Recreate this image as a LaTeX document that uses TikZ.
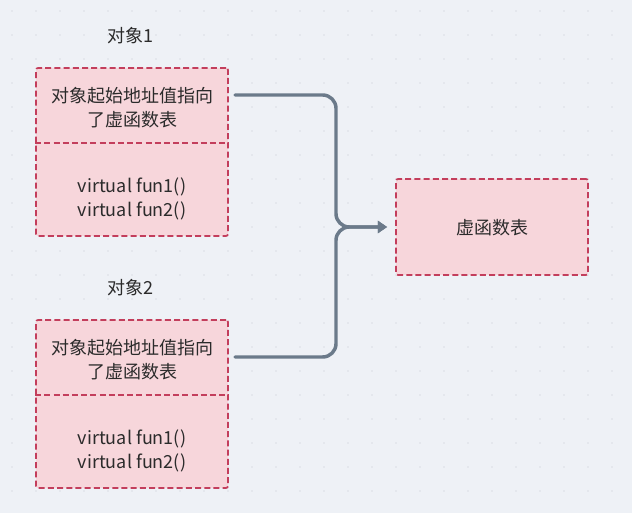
\documentclass[tikz,border=0pt]{standalone}
\usepackage{fontspec}
\setmainfont{Noto Sans CJK SC}
\usepackage{tikz}
\usetikzlibrary{positioning,arrows.meta}

\definecolor{bgc}{HTML}{EEF1F6}
\definecolor{dotc}{HTML}{C5CAD3}
\definecolor{boxfill}{HTML}{F7D6DB}
\definecolor{boxline}{HTML}{C33E5C}
\definecolor{linkc}{HTML}{6B7A8A}
\definecolor{txtc}{HTML}{2B2B2B}

\tikzset{
  objbox/.style={draw=boxline,fill=boxfill,line width=1.3pt,dash pattern=on 4.5pt off 2.4pt,
    rounded corners=1.5pt,minimum width=144pt,inner sep=0pt},
  divline/.style={draw=boxline,line width=1.3pt,dash pattern=on 4.5pt off 2.4pt},
  txt/.style={text=txtc,align=center,font=\fontsize{13.5pt}{17.5pt}\selectfont,inner sep=0pt},
  link/.style={draw=linkc,line width=2.6pt,rounded corners=10pt,line cap=round,
    -{Triangle[length=7pt,width=9pt]},shorten >=6pt}
}

\begin{document}
\begin{tikzpicture}[x=0.75pt,y=0.75pt,yscale=-1,xscale=1]
% background and dot grid
\fill[bgc] (0,0) rectangle (632,513);
\useasboundingbox (0,0) rectangle (632,513);
\foreach \i in {0,...,26}
  \foreach \j in {0,...,21}
    \fill[dotc] (12+24*\i,11+24*\j) circle (0.55pt);

% Object 1
\node[txt] (lbl1) at (130,36) {对象1};
\node[objbox,minimum height=126pt] (obj1) at (132,152) {};
\draw[divline] (obj1.west |- 0,143) -- (obj1.east |- 0,143);
\node[txt] (head1) at (132,107.5) {对象起始地址值指向\\了虚函数表};
\node[txt] (body1) at (132,199) {virtual fun1()\\virtual fun2()};

% Object 2
\node[txt] (lbl2) at (130,288) {对象2};
\node[objbox,minimum height=126pt] (obj2) at (132,404) {};
\draw[divline] (obj2.west |- 0,395) -- (obj2.east |- 0,395);
\node[txt] (head2) at (132,359.5) {对象起始地址值指向\\了虚函数表};
\node[txt] (body2) at (132,451) {virtual fun1()\\virtual fun2()};

% virtual table
\node[objbox,minimum height=72pt] (vtbl) at (492,227) {};
\node[txt] (vtxt) at (492,228) {虚函数表};

% connectors
\coordinate (s1) at (235,95);
\coordinate (s2) at (235,357);
\coordinate (join) at (336,227);
\draw[link] (s1) -| (join) -- (vtbl.west);
\draw[link] (s2) -| (join) -- (vtbl.west);

\end{tikzpicture}
\end{document}
